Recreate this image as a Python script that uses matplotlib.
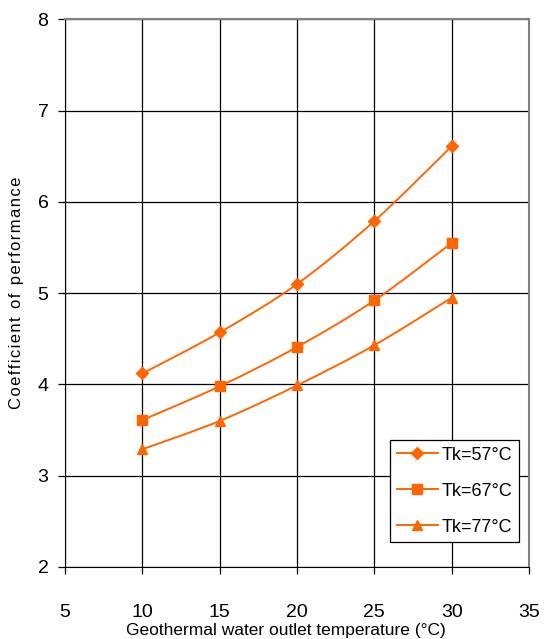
import matplotlib
matplotlib.use("Agg")
import matplotlib.pyplot as plt
import numpy as np
from matplotlib.path import Path
from matplotlib.patches import PathPatch

plt.rcParams['font.family'] = ['Liberation Sans', 'DejaVu Sans']

# data
outlet_temp = [10, 15, 20, 25, 30]
cop_57 = [4.12, 4.57, 5.10, 5.79, 6.61]
cop_67 = [3.61, 3.98, 4.41, 4.92, 5.55]
cop_77 = [3.29, 3.60, 3.99, 4.43, 4.95]
series_labels = ['Tk=57°C', 'Tk=67°C', 'Tk=77°C']
markers = ['D', 's', '^']
marker_sizes = [6.5, 6.5, 7.5]
ORANGE = '#FF6600'


def smooth_path(x, y):
    # Catmull-Rom style bezier through the points (like a spreadsheet "smoothed line")
    x = np.asarray(x, float)
    y = np.asarray(y, float)
    verts = [(x[0], y[0])]
    codes = [Path.MOVETO]
    n = len(x)
    for i in range(n - 1):
        x0, y0 = (x[i - 1], y[i - 1]) if i > 0 else (x[i], y[i])
        x3, y3 = (x[i + 2], y[i + 2]) if i + 2 < n else (x[i + 1], y[i + 1])
        c1 = (x[i] + (x[i + 1] - x0) / 6, y[i] + (y[i + 1] - y0) / 6)
        c2 = (x[i + 1] - (x3 - x[i]) / 6, y[i + 1] - (y3 - y[i]) / 6)
        verts += [c1, c2, (x[i + 1], y[i + 1])]
        codes += [Path.CURVE4] * 3
    return Path(verts, codes)


fig = plt.figure(figsize=(5.47, 6.39), dpi=100)
ax = fig.add_axes([0.119, 0.1127, 0.848, 0.857])

for vals, lab, mk, ms in zip([cop_57, cop_67, cop_77], series_labels, markers, marker_sizes):
    ax.add_patch(PathPatch(smooth_path(outlet_temp, vals), facecolor='none',
                           edgecolor=ORANGE, lw=1.4, zorder=3))
    ax.plot(outlet_temp, vals, linestyle='none', marker=mk, markersize=ms,
            color=ORANGE, zorder=4)
    # legend proxy
    ax.plot([], [], color=ORANGE, lw=1.4, marker=mk, markersize=ms, label=lab)

ax.set_xlim(5, 35)
ax.set_ylim(2, 8)
ax.set_xticks(range(5, 36, 5))
ax.set_yticks(range(2, 9))
ax.grid(True, color='black', lw=0.9)
ax.set_axisbelow(True)
ax.tick_params(direction='out', length=5, width=0.9, labelsize=14, colors='black')
ax.tick_params(axis='x', pad=22)
ax.tick_params(axis='y', pad=7)
for side in ['left', 'bottom']:
    ax.spines[side].set_color('black')
for side in ['top', 'right']:
    ax.spines[side].set_color('#808080')
    ax.spines[side].set_linewidth(1.5)

ax.set_xlabel('Geothermal water outlet temperature (°C)', fontsize=12.5, va='center')
ax.xaxis.set_label_coords(0.476, -0.116)
ax.set_ylabel('C o e f f i c i e n t   o f   p e r f o r m a n c e'.replace('   ', '\u2002').replace(' ', '\u200a'),
              fontsize=12, labelpad=10)

leg = ax.legend(loc='lower right', bbox_to_anchor=(0.978, 0.0456), fontsize=13,
                fancybox=False, framealpha=1, edgecolor='black', borderpad=0.35,
                labelspacing=1.05, handlelength=2.3, handletextpad=0.2,
                borderaxespad=0)
leg.get_frame().set_linewidth(0.9)

fig.savefig('out.png', dpi=100)
